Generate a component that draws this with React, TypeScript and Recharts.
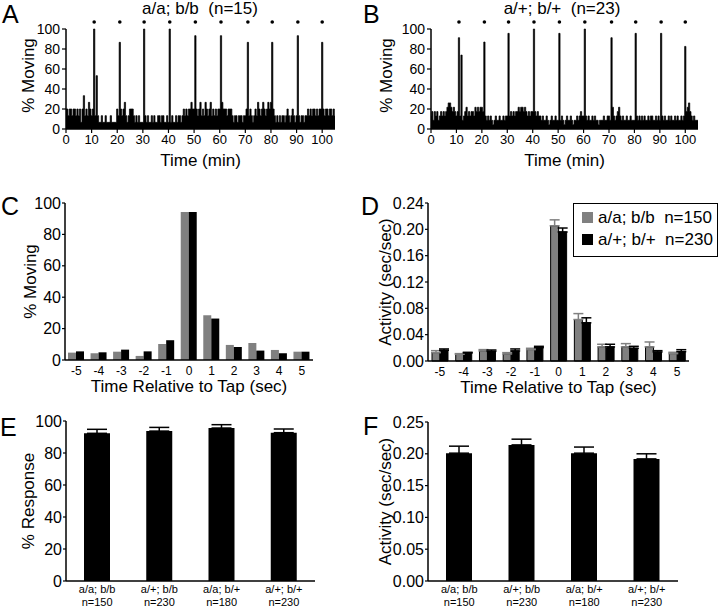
import React from 'react';
import {
  ComposedChart,
  BarChart,
  Area,
  Bar,
  Scatter,
  XAxis,
  YAxis,
  ReferenceLine,
  ErrorBar,
} from 'recharts';

const FONT = '"Liberation Sans", Arial, Helvetica, sans-serif';
const BLACK = '#000';
const GRAY = '#808080';

// A / B: flies moving in each 30 s bin, 0 - 105 min (counts)
const countsAA = [
  3, 3, 2, 3, 3, 2, 3, 3, 2, 3, 2, 3, 1, 3, 5, 2, 3, 2, 4, 3,
  2, 3, 15, 2, 8, 2, 1, 1, 2, 1, 1, 2, 1, 1, 1, 2, 1, 1, 1, 1,
  3, 2, 13, 3, 2, 3, 4, 2, 1, 2, 3, 3, 3, 2, 1, 2, 1, 2, 1, 1,
  1, 15, 2, 1, 2, 1, 1, 2, 1, 2, 1, 1, 2, 2, 1, 2, 2, 1, 1, 2,
  1, 15, 1, 2, 1, 1, 2, 1, 2, 2, 1, 2, 3, 2, 3, 2, 3, 3, 4, 3,
  3, 14, 3, 2, 3, 4, 2, 3, 2, 4, 3, 2, 3, 4, 2, 3, 2, 3, 2, 3,
  3, 14, 4, 3, 3, 3, 2, 3, 3, 3, 2, 1, 2, 2, 1, 2, 2, 2, 1, 2,
  2, 3, 13, 2, 3, 2, 1, 2, 3, 2, 4, 3, 2, 3, 4, 3, 2, 3, 4, 3,
  4, 13, 3, 2, 1, 2, 1, 2, 1, 2, 2, 1, 2, 3, 2, 1, 2, 3, 2, 1,
  2, 14, 2, 1, 2, 2, 1, 2, 2, 3, 2, 3, 2, 3, 3, 2, 3, 2, 3, 3,
  13, 3, 2, 3, 3, 2, 3, 3, 2, 3, 2,
];
const countsAB = [
  3, 4, 2, 4, 3, 4, 2, 3, 4, 3, 4, 3, 4, 5, 6, 6, 5, 4, 5, 4,
  3, 4, 21, 3, 17, 2, 3, 4, 5, 3, 4, 3, 4, 4, 3, 5, 4, 5, 4, 5,
  5, 4, 20, 3, 2, 3, 2, 3, 2, 1, 2, 3, 2, 2, 3, 2, 2, 3, 2, 3,
  3, 22, 3, 4, 3, 4, 3, 4, 4, 5, 4, 5, 5, 4, 5, 4, 3, 4, 3, 4,
  4, 23, 4, 3, 4, 3, 3, 2, 3, 2, 2, 3, 2, 1, 2, 3, 2, 2, 3, 2,
  2, 22, 2, 3, 2, 1, 2, 3, 2, 2, 3, 2, 1, 2, 2, 3, 2, 3, 4, 3,
  3, 23, 3, 2, 3, 2, 2, 3, 2, 3, 2, 2, 1, 2, 2, 2, 3, 2, 2, 3,
  3, 2, 21, 5, 3, 2, 3, 4, 5, 3, 2, 3, 2, 2, 3, 2, 2, 3, 2, 2,
  2, 22, 3, 2, 3, 2, 3, 2, 3, 2, 2, 3, 2, 3, 3, 2, 2, 3, 2, 3,
  2, 22, 3, 2, 3, 2, 2, 3, 2, 3, 2, 2, 3, 2, 3, 2, 2, 3, 2, 3,
  19, 4, 5, 6, 4, 3, 2, 3, 2, 2, 2,
];
const tapMinutes = [11, 21, 30.5, 40.5, 50.5, 60.5, 71, 80.5, 90.5, 100];
const minuteTicks = [0, 10, 20, 30, 40, 50, 60, 70, 80, 90, 100];
const percentTicks = [0, 20, 40, 60, 80, 100];

// C / D: seconds around the tap
const tapSeconds = ['-5', '-4', '-3', '-2', '-1', '0', '1', '2', '3', '4', '5'];
const movingAA = [4.7, 4.3, 5.3, 2.6, 10.2, 94.3, 28.5, 9.6, 10.9, 6.4, 5.3];
const movingAB = [5.5, 4.9, 6.6, 5.5, 12.6, 94.3, 26.4, 8.3, 6.0, 4.3, 5.3];
const activityAA = [0.0127, 0.0102, 0.0153, 0.0107, 0.0173, 0.2054, 0.063, 0.0214, 0.0214, 0.0214, 0.0112];
const activityAB = [0.0163, 0.0122, 0.0147, 0.0153, 0.0203, 0.196, 0.058, 0.0214, 0.0193, 0.0137, 0.0142];
const activityErrAA = [0.003, 0.001, 0.002, 0.002, 0.002, 0.009, 0.009, 0.004, 0.005, 0.0075, 0.002];
const activityErrAB = [0.002, 0.001, 0.002, 0.003, 0.002, 0.006, 0.0076, 0.004, 0.003, 0.002, 0.003];
const activityTicks = [0, 0.04, 0.08, 0.12, 0.16, 0.2, 0.24];

// E / F: per genotype
const genotypes = ['a/a; b/b', 'a/+; b/b', 'a/a; b/+', 'a/+; b/+'];
const genotypeN = ['n=150', 'n=230', 'n=180', 'n=230'];
const responsePct = [92.3, 93.7, 95.6, 92.7];
const responseErr = [2.5, 2.3, 2.1, 2.3];
const tapActivity = [0.201, 0.214, 0.201, 0.192];
const tapActivityErr = [0.011, 0.009, 0.0096, 0.008];
const tapActivityTicks = [0, 0.05, 0.1, 0.15, 0.2, 0.25];

const legendItems = [
  { label: 'a/a; b/b  n=150', color: GRAY },
  { label: 'a/+; b/+  n=230', color: BLACK },
];

const axisLine = { stroke: BLACK, strokeWidth: 1.5 };
const tickLine = { stroke: BLACK, strokeWidth: 1.2 };
const tickFont = (size: number) => ({ fill: BLACK, fontSize: size, fontFamily: FONT });
const titleFont = { fill: BLACK, fontSize: 17, fontFamily: FONT };
const fixed2 = (v: number) => v.toFixed(2);

const TapDot = (props: any) => <circle cx={props.cx} cy={props.cy} r={1.8} fill={BLACK} />;

const GenotypeTick = (props: any) => {
  const { x, y, payload } = props;
  const i = genotypes.indexOf(payload.value);
  return (
    <g>
      <text x={x} y={y + 12} textAnchor="middle" fill={BLACK} fontSize={11} fontFamily={FONT}>
        {payload.value}
      </text>
      <text x={x} y={y + 24.5} textAnchor="middle" fill={BLACK} fontSize={11} fontFamily={FONT}>
        {genotypeN[i]}
      </text>
    </g>
  );
};

function TimeCourse({ counts, n, yWidth, right, labelDx }: { counts: number[]; n: number; yWidth: number; right: number; labelDx: number }) {
  const data = counts.map((c, i) => ({ min: i * 0.5, pct: (c / n) * 100 }));
  const dots = tapMinutes.map((min) => ({ min, mark: 107 }));
  return (
    <ComposedChart width={360} height={175} data={data} margin={{ top: 22, right, bottom: 6, left: 0 }}>
      <XAxis
        dataKey="min"
        type="number"
        domain={[0, 105]}
        ticks={minuteTicks}
        interval={0}
        height={40}
        axisLine={axisLine}
        tickLine={tickLine}
        tickSize={4}
        tickMargin={2}
        tick={tickFont(13)}
        label={{ value: 'Time (min)', position: 'insideBottom', offset: 3, ...titleFont }}
      />
      <YAxis
        type="number"
        domain={[0, 107]}
        ticks={percentTicks}
        interval={0}
        width={yWidth}
        axisLine={false}
        tickLine={tickLine}
        tickSize={4}
        tickMargin={2}
        tick={tickFont(14)}
        label={{ value: '% Moving', angle: -90, position: 'center', dx: labelDx, ...titleFont }}
      />
      <ReferenceLine segment={[{ x: 0, y: 0 }, { x: 0, y: 100 }]} stroke={BLACK} strokeWidth={1.5} />
      <Area type="step" dataKey="pct" fill={BLACK} fillOpacity={1} stroke={BLACK} strokeWidth={0.7} dot={false} activeDot={false} isAnimationActive={false} />
      <Scatter data={dots} dataKey="mark" shape={TapDot} isAnimationActive={false} />
    </ComposedChart>
  );
}

const letter = (text: string, left: number, top: number) => (
  <div style={{ position: 'absolute', left, top, fontSize: 25, lineHeight: 1, fontFamily: FONT }}>{text}</div>
);

export default function App() {
  const movingData = tapSeconds.map((sec, i) => ({ sec, aa: movingAA[i], ab: movingAB[i] }));
  const activityData = tapSeconds.map((sec, i) => ({
    sec,
    aa: activityAA[i],
    ab: activityAB[i],
    aaErr: [0, activityErrAA[i]],
    abErr: [0, activityErrAB[i]],
  }));
  const responseData = genotypes.map((g, i) => ({ g, v: responsePct[i], err: [0, responseErr[i]] }));
  const tapActData = genotypes.map((g, i) => ({ g, v: tapActivity[i], err: [0, tapActivityErr[i]] }));

  return (
    <div style={{ position: 'absolute', left: 0, top: 0, width: 720, height: 608, background: '#fff', fontFamily: FONT, color: BLACK, overflow: 'hidden' }}>
      {/* A */}
      <div style={{ position: 'absolute', left: 0, top: 0 }}>
        <TimeCourse counts={countsAA} n={15} yWidth={66} right={25} labelDx={-5} />
      </div>
      <div style={{ position: 'absolute', left: 100, top: 0, width: 200, textAlign: 'center', fontSize: 17, lineHeight: 1.05, whiteSpace: 'pre' }}>
        {'a/a; b/b  (n=15)'}
      </div>

      {/* B */}
      <div style={{ position: 'absolute', left: 360, top: 0 }}>
        <TimeCourse counts={countsAB} n={23} yWidth={71} right={22} labelDx={-10} />
      </div>
      <div style={{ position: 'absolute', left: 462, top: 0, width: 200, textAlign: 'center', fontSize: 17, lineHeight: 1.05, whiteSpace: 'pre' }}>
        {'a/+; b/+  (n=23)'}
      </div>

      {/* C */}
      <div style={{ position: 'absolute', left: 0, top: 180 }}>
        <BarChart width={360} height={222} data={movingData} margin={{ top: 23, right: 47, bottom: 6, left: 0 }} barGap={0}>
          <XAxis
            dataKey="sec"
            interval={0}
            height={36}
            axisLine={axisLine}
            tickLine={false}
            tickSize={4}
            tickMargin={2}
            tick={tickFont(12)}
            label={{ value: 'Time Relative to Tap (sec)', position: 'insideBottom', offset: 4, ...titleFont }}
          />
          <YAxis
            domain={[0, 100]}
            ticks={percentTicks}
            interval={0}
            width={65}
            axisLine={axisLine}
            tickLine={tickLine}
            tickSize={3}
            tickMargin={1}
            tick={tickFont(16)}
            label={{ value: '% Moving', angle: -90, position: 'center', dx: -3, ...titleFont }}
          />
          <Bar dataKey="aa" fill={GRAY} barSize={8} isAnimationActive={false} />
          <Bar dataKey="ab" fill={BLACK} barSize={8} isAnimationActive={false} />
        </BarChart>
      </div>

      {/* D */}
      <div style={{ position: 'absolute', left: 360, top: 180 }}>
        <BarChart width={360} height={223} data={activityData} margin={{ top: 23, right: 31, bottom: 6, left: 0 }} barGap={0}>
          <XAxis
            dataKey="sec"
            interval={0}
            height={36}
            axisLine={axisLine}
            tickLine={false}
            tickSize={4}
            tickMargin={2}
            tick={tickFont(12)}
            label={{ value: 'Time Relative to Tap (sec)', position: 'insideBottom', offset: 4, ...titleFont }}
          />
          <YAxis
            domain={[0, 0.24]}
            ticks={activityTicks}
            interval={0}
            width={68}
            axisLine={axisLine}
            tickLine={tickLine}
            tickSize={3}
            tickMargin={1}
            tick={tickFont(16)}
            tickFormatter={fixed2}
            label={{ value: 'Activity (sec/sec)', angle: -90, position: 'center', dx: -9, ...titleFont }}
          />
          <Bar dataKey="aa" fill={GRAY} stroke={BLACK} strokeWidth={1} barSize={8} isAnimationActive={false}>
            <ErrorBar dataKey="aaErr" direction="y" width={5} stroke={GRAY} strokeWidth={1.5} />
          </Bar>
          <Bar dataKey="ab" fill={BLACK} stroke={BLACK} strokeWidth={1} barSize={8} isAnimationActive={false}>
            <ErrorBar dataKey="abErr" direction="y" width={5} stroke={BLACK} strokeWidth={1.5} />
          </Bar>
        </BarChart>
      </div>
      <div style={{ position: 'absolute', left: 573, top: 203, width: 145, height: 54, boxSizing: 'border-box', border: '1.5px solid #000', paddingTop: 2, paddingLeft: 8, background: '#fff' }}>
        {legendItems.map((item) => (
          <div key={item.label} style={{ display: 'flex', alignItems: 'center', height: 22 }}>
            <div style={{ width: 11, height: 11, background: item.color, marginRight: 5 }} />
            <span style={{ fontSize: 17, lineHeight: 1, whiteSpace: 'pre' }}>{item.label}</span>
          </div>
        ))}
      </div>

      {/* E */}
      <div style={{ position: 'absolute', left: 0, top: 400 }}>
        <BarChart width={360} height={208} data={responseData} margin={{ top: 21, right: 45, bottom: 0, left: 0 }}>
          <XAxis dataKey="g" interval={0} height={27} axisLine={axisLine} tickLine={false} tickSize={0} tickMargin={0} tick={GenotypeTick} />
          <YAxis
            domain={[0, 100]}
            ticks={percentTicks}
            interval={0}
            width={66}
            axisLine={axisLine}
            tickLine={tickLine}
            tickSize={3}
            tickMargin={1}
            tick={tickFont(16)}
            label={{ value: '% Response', angle: -90, position: 'center', dx: -5, ...titleFont }}
          />
          <Bar dataKey="v" fill={BLACK} barSize={26} isAnimationActive={false}>
            <ErrorBar dataKey="err" direction="y" width={10} stroke={BLACK} strokeWidth={1.5} />
          </Bar>
        </BarChart>
      </div>

      {/* F */}
      <div style={{ position: 'absolute', left: 360, top: 400 }}>
        <BarChart width={360} height={208} data={tapActData} margin={{ top: 22, right: 42, bottom: 0, left: 0 }}>
          <XAxis dataKey="g" interval={0} height={27} axisLine={axisLine} tickLine={false} tickSize={0} tickMargin={0} tick={GenotypeTick} />
          <YAxis
            domain={[0, 0.25]}
            ticks={tapActivityTicks}
            interval={0}
            width={68}
            axisLine={axisLine}
            tickLine={tickLine}
            tickSize={3}
            tickMargin={1}
            tick={tickFont(16)}
            tickFormatter={fixed2}
            label={{ value: 'Activity (sec/sec)', angle: -90, position: 'center', dx: -9, ...titleFont }}
          />
          <Bar dataKey="v" fill={BLACK} barSize={26} isAnimationActive={false}>
            <ErrorBar dataKey="err" direction="y" width={10} stroke={BLACK} strokeWidth={1.5} />
          </Bar>
        </BarChart>
      </div>

      {letter('A', 2, 2)}
      {letter('B', 363, 2)}
      {letter('C', 1, 194)}
      {letter('D', 361, 194)}
      {letter('E', 0, 415)}
      {letter('F', 363, 414)}
    </div>
  );
}
